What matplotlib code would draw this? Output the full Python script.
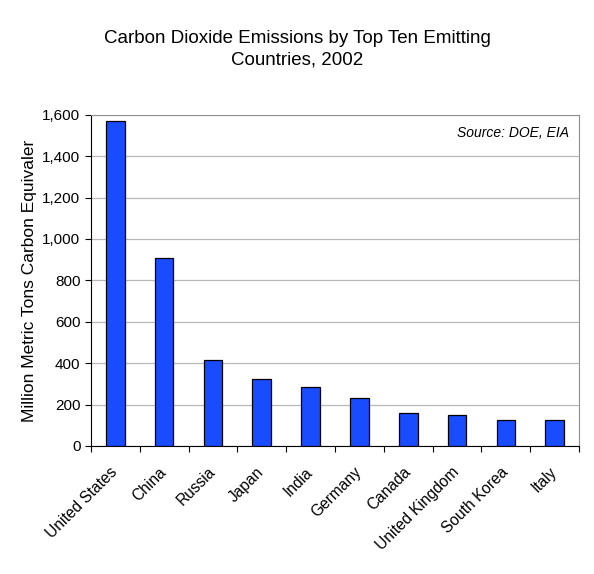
import matplotlib
matplotlib.use('Agg')
import matplotlib.pyplot as plt
from matplotlib.ticker import FuncFormatter
import numpy as np

plt.rcParams['font.family'] = ['Liberation Sans', 'DejaVu Sans']

countries = ['United States', 'China', 'Russia', 'Japan', 'India', 'Germany',
             'Canada', 'United Kingdom', 'South Korea', 'Italy']
emissions = [1571, 907, 414, 324, 284, 230, 161, 150, 124, 124]
yticks = [0, 200, 400, 600, 800, 1000, 1200, 1400, 1600]

fig = plt.figure(figsize=[5.94, 5.74], dpi=100)
ax = fig.add_axes([0.153, 0.223, 0.822, 0.577])

x = np.arange(len(countries))
ax.bar(x, emissions, width=0.38, color='#1a4cff', edgecolor='black', linewidth=0.9, zorder=3)

ax.set_xlim(-0.5, len(countries) - 0.5)
ax.set_ylim(0, 1600)
ax.set_yticks(yticks)
ax.yaxis.set_major_formatter(FuncFormatter(lambda v, p: '{:,.0f}'.format(v)))
ax.grid(axis='y', color='#b8b8b8', linewidth=0.9, zorder=0)

# category ticks sit between bars, labels at bar centres
ax.set_xticks(np.arange(len(countries) + 1) - 0.5)
ax.set_xticklabels([])
ax.set_xticks(x, minor=True)
ax.set_xticklabels(countries, minor=True, rotation=45, ha='right', va='center',
                   rotation_mode='anchor', fontsize=11.2)
ax.tick_params(axis='x', which='minor', length=0, pad=17)
ax.tick_params(axis='x', which='major', direction='out', length=4)
ax.tick_params(axis='y', direction='out', length=4, labelsize=11)

for s in ['top', 'right']:
    ax.spines[s].set_color('#909090')
ax.spines['left'].set_color('black')
ax.spines['bottom'].set_color('black')

ax.set_ylabel('Million Metric Tons Carbon Equivaler', fontsize=12.5, labelpad=4)
ax.text(0.98, 0.945, 'Source: DOE, EIA', transform=ax.transAxes, ha='right', va='center',
        style='italic', fontsize=10)

fig.text(0.5, 0.915, 'Carbon Dioxide Emissions by Top Ten Emitting\nCountries, 2002',
         ha='center', va='center', fontsize=13.5, linespacing=1.35)

fig.savefig('out.png', dpi=100)
